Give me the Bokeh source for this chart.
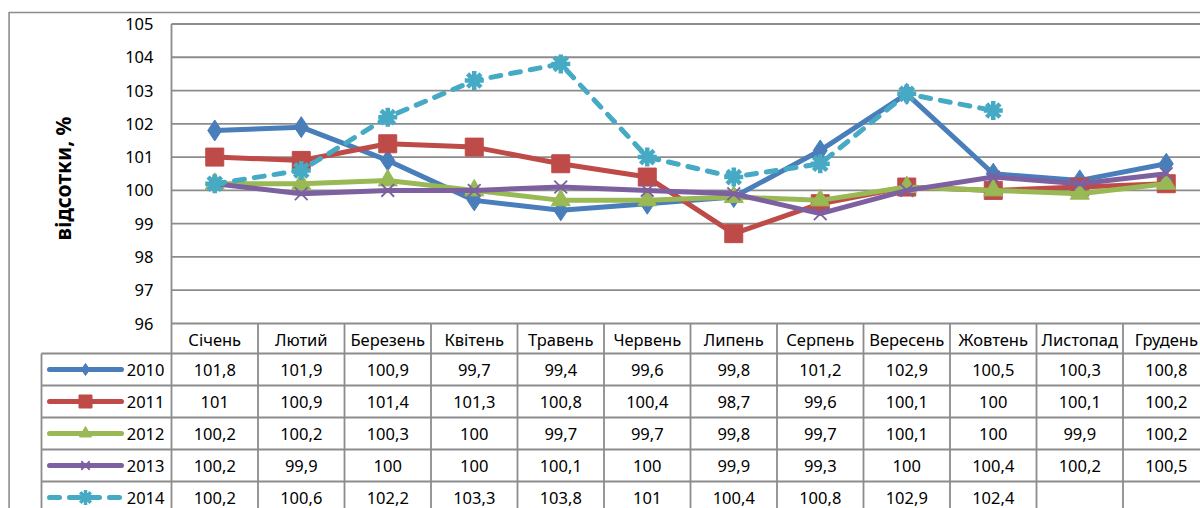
import math
from bokeh.plotting import figure
from bokeh.models import Range1d, LinearAxis, FixedTicker
from bokeh.core.properties import value
from bokeh.embed import file_html
from bokeh.resources import INLINE

# ---------------- data ----------------
months = ["Січень", "Лютий", "Березень", "Квітень", "Травень", "Червень",
          "Липень", "Серпень", "Вересень", "Жовтень", "Листопад", "Грудень"]
years = ["2010", "2011", "2012", "2013", "2014"]
nan = float("nan")
s2010 = [101.8, 101.9, 100.9, 99.7, 99.4, 99.6, 99.8, 101.2, 102.9, 100.5, 100.3, 100.8]
s2011 = [101.0, 100.9, 101.4, 101.3, 100.8, 100.4, 98.7, 99.6, 100.1, 100.0, 100.1, 100.2]
s2012 = [100.2, 100.2, 100.3, 100.0, 99.7, 99.7, 99.8, 99.7, 100.1, 100.0, 99.9, 100.2]
s2013 = [100.2, 99.9, 100.0, 100.0, 100.1, 100.0, 99.9, 99.3, 100.0, 100.4, 100.2, 100.5]
s2014 = [100.2, 100.6, 102.2, 103.3, 103.8, 101.0, 100.4, 100.8, 102.9, 102.4, nan, nan]
y_ticks = [96, 97, 98, 99, 100, 101, 102, 103, 104, 105]
y_label = "відсотки, %"

series = [s2010, s2011, s2012, s2013, s2014]

# ---------------- styles ----------------
colors = ["#4A7EBB", "#BE4B48", "#98B954", "#7D60A0", "#46AAC5"]
markers = ["diamond", "square", "triangle", "x", "asterisk"]
msizes = [21, 18, 19, 18, 19]
mlw = [1, 1, 1, 1.8, 4.5]
legend_msizes = [12, 13, 12, 12, 15]
dashes = ["solid", "solid", "solid", "solid", "10 10"]
FONT = "Noto Sans"
FS = "16.5px"
GRID = "#8c8c8c"

W, H = 1200, 508
COL = 86.5        # px per category column
UNIT = 33.28      # px per percentage point
LEFT = 171        # px of plot-area left edge
BOTTOM = 323      # px of value 96

x0 = -0.5 - LEFT / COL
x1 = -0.5 + (W - LEFT) / COL
ytop = y_ticks[0] + BOTTOM / UNIT
ybot = y_ticks[0] - (H - BOTTOM) / UNIT


def fx(px):
    return x0 + px / COL


def fy(py):
    return ytop - py / UNIT


p = figure(width=W, height=H, output_backend="svg", toolbar_location=None,
           x_axis_type=None, y_axis_type=None,
           x_range=Range1d(x0, x1), y_range=Range1d(ybot, ytop),
           min_border=0, min_border_left=0, min_border_right=0,
           min_border_top=0, min_border_bottom=0)
p.outline_line_color = None
p.background_fill_color = "white"
p.border_fill_color = "white"

n = len(months)
xs = list(range(n))

# outer chart border
p.segment(x0=[fx(8.6), fx(8)], y0=[ybot, fy(12)], x1=[fx(8.6), x1], y1=[fy(12), fy(12)],
          line_color=GRID, line_width=1.6)

# horizontal gridlines
p.segment(x0=[-0.5] * len(y_ticks), x1=[x1] * len(y_ticks), y0=y_ticks, y1=y_ticks,
          line_color=GRID, line_width=1.8)

# table geometry (px)
header_bottom = BOTTOM + 30
row_h = 32
row_lines = [header_bottom + i * row_h for i in range(len(years))]
row_centers = [header_bottom + (i + 0.5) * row_h for i in range(len(years))]
leg_left = 41

# vertical table lines
p.segment(x0=[-0.5], x1=[-0.5], y0=[ybot], y1=[y_ticks[-1]], line_color=GRID, line_width=1.8)
vx = [-0.5 + k for k in range(1, n + 1)]
p.segment(x0=vx, x1=vx, y0=[ybot] * len(vx), y1=[y_ticks[0]] * len(vx),
          line_color=GRID, line_width=1.8)
p.segment(x0=[fx(leg_left)], x1=[fx(leg_left)], y0=[ybot], y1=[fy(header_bottom)],
          line_color=GRID, line_width=1.8)
# horizontal table lines
hy = [fy(r) for r in row_lines]
p.segment(x0=[fx(leg_left)] * len(hy), x1=[x1] * len(hy), y0=hy, y1=hy,
          line_color=GRID, line_width=1.8)

# series
for s, c, m, ms, lw, d in zip(series, colors, markers, msizes, mlw, dashes):
    p.line(xs, s, line_color=c, line_width=5, line_dash=d,
           line_join="round", line_cap="round")
    if m in ("x", "asterisk"):
        p.scatter(xs, s, marker=m, size=ms, line_color=c, line_width=lw)
    else:
        p.scatter(xs, s, marker=m, size=ms, fill_color=c, line_color=c)


def fmt(v):
    if isinstance(v, float) and math.isnan(v):
        return ""
    if v == int(v):
        return str(int(v))
    return f"{v:.1f}".replace(".", ",")


# table cells
for i, s in enumerate(series):
    yc = fy(row_centers[i])
    p.text(xs, [yc] * n, text=[fmt(v) for v in s], text_align="center",
           text_baseline="middle", text_font=value(FONT), text_font_size=FS,
           text_color="black")

# legend column
for i, (yr, c, m, lms, lw, d) in enumerate(zip(years, colors, markers, legend_msizes, mlw, dashes)):
    yc = fy(row_centers[i])
    p.segment(x0=[fx(49)], x1=[fx(121)], y0=[yc], y1=[yc], line_color=c,
              line_width=5, line_cap="round", line_dash=d)
    if m in ("x", "asterisk"):
        p.scatter([fx(85)], [yc], marker=m, size=lms, line_color=c, line_width=min(lw, 3.5))
    else:
        p.scatter([fx(85)], [yc], marker=m, size=lms, fill_color=c, line_color=c)
    p.text([fx(164)], [yc], text=[yr], text_align="right", text_baseline="middle",
           text_font=value(FONT), text_font_size=FS, text_color="black")

# axes
yaxis = LinearAxis(fixed_location=-0.5, ticker=FixedTicker(ticks=y_ticks),
                   bounds=(95.7, y_ticks[-1]))
yaxis.axis_line_color = None
yaxis.major_tick_line_color = None
yaxis.minor_tick_line_color = None
yaxis.major_tick_out = 0
yaxis.major_tick_in = 0
yaxis.major_label_standoff = 18
yaxis.major_label_text_font = FONT
yaxis.major_label_text_font_size = FS
yaxis.major_label_text_color = "black"
yaxis.axis_label = y_label
yaxis.axis_label_text_font = FONT
yaxis.axis_label_text_font_style = "bold"
yaxis.axis_label_text_font_size = "21px"
yaxis.axis_label_text_color = "black"
yaxis.axis_label_standoff = 45
p.add_layout(yaxis, "left")

xaxis = LinearAxis(fixed_location=y_ticks[0], ticker=FixedTicker(ticks=xs),
                   major_label_overrides={i: m for i, m in enumerate(months)})
xaxis.axis_line_color = None
xaxis.major_tick_line_color = None
xaxis.minor_tick_line_color = None
xaxis.major_tick_out = 0
xaxis.major_tick_in = 0
xaxis.major_label_standoff = 4
xaxis.major_label_text_font = FONT
xaxis.major_label_text_font_size = FS
xaxis.major_label_text_color = "black"
p.add_layout(xaxis, "below")

open("out.html", "w").write(file_html(p, INLINE))
